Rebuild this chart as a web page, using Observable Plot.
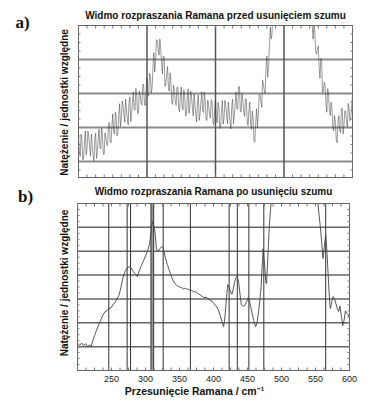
<!DOCTYPE html>
<html><head><meta charset="utf-8">
<script src="https://cdn.jsdelivr.net/npm/d3@7"></script>
<script src="https://cdn.jsdelivr.net/npm/@observablehq/plot@0.6"></script>
<style>
body{margin:0;background:#fff;width:384px;height:404px;overflow:hidden;position:relative}
#a{position:absolute;left:0;top:0}
#b{position:absolute;left:0;top:180px}
svg{display:block}
</style></head><body><div id="a"></div><div id="b"></div>
<script>
// ---- data ----
const X_DOMAIN = [200, 600];
const TICK_LABELS = [250, 300, 350, 400, 450, 500, 550, 600];
const GRID_A_X = [300, 400, 500];
const GRID_A_Y = [1, 2, 3, 4];
const GRID_B_Y = [1, 2, 3, 4, 5, 6];
const PEAK_LINES_B = [246, 273, 278, 308, 312, 326, 366, 423, 435, 452, 474, 565];
const PEAK_BAND_B = [310];
const TITLE_A = "Widmo rozpraszania Ramana przed usunięciem szumu";
const TITLE_B = "Widmo rozpraszania Ramana po usunięciu szumu";
const Y_LABEL = "Natężenie / jednostki względne";
const X_LABEL = "Przesunięcie Ramana / cm⁻¹";

// raw (noisy) spectrum: samples at 200, 202.5, ... 600
const RAW_START = 200, RAW_STEP = 2.5;
const rawIntensity = [
1.80,1.15,1.65,1.10,1.90,1.39,1.73,1.16,1.50,1.01,
1.83,1.29,1.95,1.37,1.75,1.22,1.70,1.47,2.15,1.55,
2.40,1.81,2.33,1.84,2.70,2.25,2.65,2.15,2.55,2.08,
2.90,2.38,3.05,2.51,2.93,2.44,2.95,2.66,3.28,2.64,
3.45,2.92,3.50,3.17,4.20,3.95,4.55,4.13,4.33,3.58,
4.09,3.27,3.79,3.07,3.30,2.68,3.06,2.65,3.18,2.46,
3.19,2.52,2.95,2.37,3.13,2.60,2.91,2.34,2.68,2.17,
2.96,2.40,3.05,2.44,2.78,2.21,2.65,2.28,2.80,2.08,
2.80,2.14,2.58,2.01,2.80,2.30,2.65,2.10,2.45,1.96,
2.83,2.34,3.05,2.55,3.20,2.47,2.78,2.33,2.82,2.06,
2.75,1.95,2.25,1.57,2.55,2.35,2.95,2.60,3.25,3.00,
4.10,3.80,4.95,4.75,5.50,5.35,6.10,6.00,6.80,6.50,
7.20,6.90,7.40,7.10,7.60,7.30,7.70,7.30,7.60,7.20,
7.50,6.90,7.20,6.50,6.60,5.80,5.50,4.60,4.80,4.15,
4.40,3.45,3.95,3.05,3.25,2.45,3.02,2.35,2.57,1.90,
2.15,1.55,2.35,1.85,2.57,2.05,2.48,2.01,2.55,2.30,
2.95
];
// raw spectrum: in-between samples at 201.25, 203.75, ... 598.75
const rawIntensityMid = [
1.30,1.80,1.05,1.60,1.20,1.89,1.42,1.81,1.21,1.67,
1.09,1.65,1.41,1.99,1.21,1.84,1.51,2.09,1.60,2.05,
1.88,2.45,1.76,2.37,2.03,2.78,2.38,2.83,2.27,2.74,
2.17,2.74,2.53,3.15,2.41,3.07,2.73,3.25,2.71,3.12,
2.96,3.59,3.01,3.79,3.63,4.58,4.32,4.60,3.91,4.09,
3.21,3.56,3.18,3.61,2.72,3.25,2.78,3.19,2.57,2.90,
2.63,3.11,2.34,2.85,2.42,3.08,2.60,2.99,2.38,2.82,
2.21,2.75,2.50,3.04,2.22,2.81,2.39,2.82,2.19,2.52,
2.25,2.74,1.97,2.51,2.10,2.80,2.35,2.75,2.16,2.65,
2.11,2.72,2.55,3.20,2.46,3.00,2.48,2.85,2.19,2.48,
2.13,2.48,1.59,2.16,2.00,2.98,2.75,3.40,3.08,3.80,
3.48,4.40,4.60,5.55,5.15,6.10,6.00,6.75,6.40,6.95,
6.85,7.45,6.80,7.45,7.15,7.90,7.45,7.85,7.20,7.55,
6.85,7.25,6.75,7.00,5.85,6.05,4.98,5.13,4.25,4.30,
3.78,4.03,3.03,3.33,2.68,3.14,2.49,2.74,2.01,2.35,
1.65,2.15,1.93,2.54,1.81,2.49,2.17,2.71,2.20,2.65
];

// denoised spectrum
const smoothShift = [
200,203,206,209,212,215,218,220,222,225,228,231,234,237,240,243,246,249,252,255,
258,261,264,267,270,273,276,279,282,285,288,291,294,297,300,303,306,308,310,312,
314,316,318,321,324,326,329,332,335,338,341,344,347,350,353,356,359,362,365,368,
371,374,377,380,383,386,389,392,395,398,401,404,407,410,413,415,417,419,421,423,
425,427,429,431,433,435,437,439,441,443,446,449,451,453,456,459,462,464,466,468,
470,472,473,475,477,478,480,482,484,486,490,500,520,540,550,553,555,557,559,561,
563,565,567,569,571,572,574,576,578,580,582,584,586,588,590,592,594,596,598,600
];
const smoothIntensity = [
1.15,1.05,1.15,1.05,1.12,1.00,1.08,0.98,1.20,1.45,1.70,1.90,2.10,2.30,2.45,2.50,2.60,2.62,2.75,2.85,
3.00,3.15,3.50,3.90,4.15,4.30,4.35,4.30,4.15,4.05,3.93,4.20,4.40,4.60,4.80,5.00,5.30,5.80,6.25,6.10,
5.80,5.10,5.00,5.10,5.20,5.15,4.75,4.45,4.20,3.95,3.75,3.62,3.55,3.50,3.47,3.42,3.45,3.40,3.38,3.35,
3.30,3.30,3.22,3.18,3.12,3.05,3.08,3.00,2.95,2.90,2.80,2.70,2.55,2.30,2.00,1.84,2.30,3.00,3.60,3.50,
3.30,3.20,3.40,3.70,3.90,3.95,3.70,3.20,2.75,2.70,2.72,2.90,3.05,2.90,2.50,2.10,1.84,2.00,2.40,2.90,
3.50,4.60,5.10,4.50,3.70,3.64,4.80,6.00,6.80,7.40,8.50,10.0,11.0,10.0,8.00,7.20,6.60,6.05,5.40,4.70,
5.20,5.70,4.90,3.80,2.80,2.60,2.90,3.10,3.00,2.80,2.60,2.47,2.70,2.30,1.88,2.10,2.50,2.40,2.35,2.20
];

// minor tick positions along the frame
const MINOR_X = d3.range(200, 600.01, 12.5);
const MINOR_Y_A = d3.range(0.75, 5, 0.25);
const MINOR_Y_B = d3.range(0.25, 7, 0.25);

// ---- build ----
const rawData = [];
rawIntensity.forEach((v, i) => {
  rawData.push({shift: RAW_START + i * RAW_STEP, intensity: v});
  if (i < rawIntensityMid.length) rawData.push({shift: RAW_START + (i + 0.5) * RAW_STEP, intensity: rawIntensityMid[i]});
});
const smoothData = smoothShift.map((s, i) => ({shift: s, intensity: smoothIntensity[i]}));

const SANS = "'Liberation Sans', Arial, sans-serif";
const NARROW = "'Liberation Sans Narrow', 'Liberation Sans', Arial, sans-serif";
const SERIF = "'Liberation Serif', 'Times New Roman', serif";
const blank = () => "";

function frameTicks(minorY) {
  return [
    Plot.axisX({anchor: "bottom", ticks: MINOR_X, tickSize: -2.5, tickFormat: blank, label: null, stroke: "#777"}),
    Plot.axisX({anchor: "top", ticks: MINOR_X, tickSize: -2.5, tickFormat: blank, label: null, stroke: "#777"}),
    Plot.axisY({anchor: "left", ticks: minorY, tickSize: -2.5, tickFormat: blank, label: null, stroke: "#777"}),
    Plot.axisY({anchor: "right", ticks: minorY, tickSize: -2.5, tickFormat: blank, label: null, stroke: "#777"})
  ];
}
const txt = {text: d => d, textAnchor: "middle", lineAnchor: "middle", fontWeight: "bold", fill: "#111"};

const chartA = Plot.plot({
  width: 384, height: 180,
  marginLeft: 78, marginRight: 32, marginTop: 25, marginBottom: 3,
  x: {domain: X_DOMAIN},
  y: {domain: [0.53, 5]},
  style: {fontFamily: SANS, background: "white", overflow: "visible"},
  marks: [
    Plot.ruleY(GRID_A_Y, {stroke: "#8c8c8c", strokeWidth: 2}),
    Plot.ruleX(GRID_A_X, {stroke: "#555", strokeWidth: 1.5}),
    Plot.line(rawData, {x: "shift", y: "intensity", stroke: "#3a3a3a", strokeWidth: 0.6, strokeOpacity: 0.85, clip: true}),
    Plot.frame({stroke: "#666"}),
    ...frameTicks(MINOR_Y_A),
    Plot.text([TITLE_A], {...txt, frameAnchor: "top", dy: -10, fontSize: 10}),
    Plot.text([Y_LABEL], {...txt, frameAnchor: "left", dx: -14, dy: 1, rotate: -90, fontSize: 10}),
    Plot.text(["a)"], {...txt, frameAnchor: "top-left", dx: -56, dy: -3, fontFamily: SERIF, fontSize: 17})
  ]
});

const chartB = Plot.plot({
  width: 384, height: 224,
  marginLeft: 77, marginRight: 35, marginTop: 23, marginBottom: 34,
  x: {domain: X_DOMAIN},
  y: {domain: [0, 7]},
  style: {fontFamily: SANS, background: "white", overflow: "visible"},
  marks: [
    Plot.ruleY(GRID_B_Y, {stroke: "#666", strokeWidth: 1.5}),
    Plot.ruleX(PEAK_BAND_B, {stroke: "#999", strokeWidth: 2.5}),
    Plot.ruleX(PEAK_LINES_B, {stroke: "#333", strokeWidth: 1}),
    Plot.line(smoothData, {x: "shift", y: "intensity", stroke: "#444", strokeWidth: 0.9, clip: true}),
    Plot.frame({stroke: "#666"}),
    ...frameTicks(MINOR_Y_B),
    Plot.axisX({anchor: "bottom", ticks: TICK_LABELS, tickSize: 0, tickPadding: 5, label: null, fontFamily: NARROW, fontSize: 9, fill: "#222"}),
    Plot.text([TITLE_B], {...txt, frameAnchor: "top", dy: -12, fontSize: 10}),
    Plot.text([Y_LABEL], {...txt, frameAnchor: "left", dx: -13, dy: -4, rotate: -90, fontSize: 10}),
    Plot.text([X_LABEL], {...txt, frameAnchor: "bottom", dx: -19, dy: 21, fontSize: 10.5}),
    Plot.text(["b)"], {...txt, frameAnchor: "top-left", dx: -52, dy: -7, fontFamily: SERIF, fontSize: 17})
  ]
});

document.getElementById("a").appendChild(chartA);
document.getElementById("b").appendChild(chartB);
</script>
</body></html>
